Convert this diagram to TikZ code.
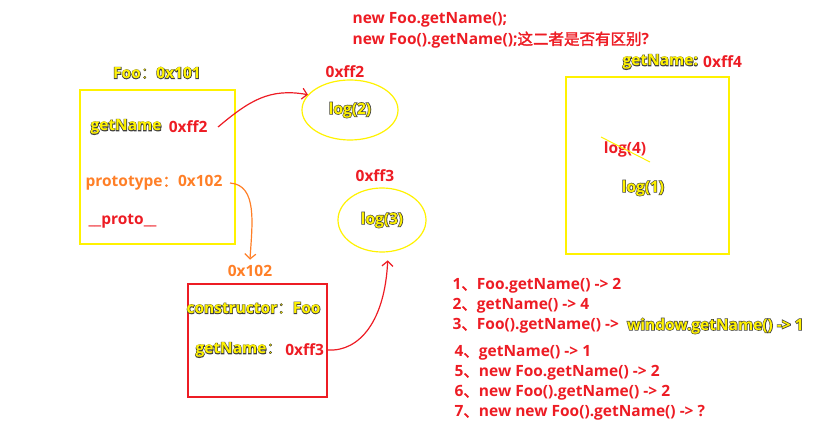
\documentclass[tikz,border=0pt]{standalone}
\usepackage{fontspec}
\setmainfont{Open Sans}[BoldFont={Open Sans Bold}]
\newfontfamily\cjk{Noto Sans CJK SC}[AutoFakeBold=2]
\usetikzlibrary{arrows.meta,shapes.geometric}
\definecolor{jsred}{RGB}{237,28,36}
\definecolor{jsyellow}{RGB}{255,242,0}
\definecolor{jsorange}{RGB}{255,127,39}
% yellow text with a dark outline: stroked copy under the filled one
\newcommand{\ylon}{}
\newcommand{\yl}[1]{\rlap{\def\ylon{\special{pdf:literal direct 0.25 0.25 0.25 RG 1.3 w 1 Tr}}\ylon#1\special{pdf:literal direct 0 Tr}}#1}
\newcommand{\zh}[1]{{\cjk\bfseries #1}}

\begin{document}
\begin{tikzpicture}[x=1pt, y=-1pt, line width=1.2pt,
    >={Straight Barb[length=5pt,width=11pt]},
    every node/.style={font=\fontsize{15.5}{18}\selectfont\bfseries, inner sep=0pt}]
    \useasboundingbox (0,0) rectangle (817,425);

    % Question
    \node[text=jsred, anchor=west] (q1) at (352,20) {new Foo.getName();};
    \node[text=jsred, anchor=west] (q2) at (352,40) {new Foo().getName();\zh{这二者是否有区别}?};

    % Foo
    \node[draw=jsyellow, minimum width=155pt, minimum height=154pt] (foo) at (157.5,167) {};
    \node[text=jsyellow] (foolbl) at (157,73) {\yl{Foo\zh{：}\ylon 0x101}};
    \node[text=jsyellow, anchor=west] (fgn) at (90,127) {\yl{getName}};
    \node[text=jsred, anchor=west] (fgnv) at ([xshift=6pt]fgn.east) {0xff2};
    \node[text=jsorange, anchor=west] (fproto) at (85,183) {prototype\zh{：}0x102};
    \node[text=jsred, anchor=west] (fpr) at (88,221) {\_\_proto\_\_};

    % Functions
    \node[draw=jsyellow, ellipse, minimum width=96pt, minimum height=60pt, text=jsyellow] (e2) at (350,110) {\yl{log(2)}};
    \node[text=jsred] (e2lbl) at (345,72) {0xff2};
    \node[draw=jsyellow, ellipse, minimum width=88pt, minimum height=64pt, text=jsyellow] (e3) at (382,220) {\yl{log(3)}};
    \node[text=jsred] (e3lbl) at (375,176) {0xff3};

    % Foo.prototype
    \node[draw=jsred, minimum width=139pt, minimum height=113pt] (pbox) at (257.5,340.5) {};
    \node[text=jsorange] (plbl) at (250,271) {0x102};
    \node[text=jsyellow, anchor=west] (pcon) at (186,308) {\yl{constructor\zh{：}\ylon Foo}};
    \node[text=jsyellow, anchor=west] (pgn) at (195,350) {\yl{getName\zh{：}}};
    \node[text=jsred, anchor=west] (pgnv) at ([xshift=2pt]pgn.east) {0xff3};

    % window.getName
    \node[draw=jsyellow, minimum width=163pt, minimum height=177pt] (wbox) at (647.5,165.5) {};
    \node[text=jsyellow, anchor=west] (wlbl) at (622,62) {\yl{getName:}};
    \node[text=jsred, anchor=west] (wlblv) at ([xshift=4pt]wlbl.east) {0xff4};
    \node[text=jsred] (log4) at (625,149) {log(4)};
    \draw[jsyellow, line width=1pt] ([shift={(-24pt,12pt)}]log4.center) -- ([shift={(25pt,-13pt)}]log4.center);
    \node[text=jsyellow] (log1) at (643,188) {\yl{log(1)}};

    % Pointers
    \draw[jsred, ->] ([xshift=10pt]fgnv.east) .. controls (250,100) and (270,88) .. (e2.160);
    \draw[jsorange, ->] ([xshift=7pt]fproto.east) .. controls (258,185) and (252,225) .. ([yshift=5pt]plbl.north);
    \draw[jsred, ->] ([xshift=3pt]pgnv.east) .. controls (360,352) and (385,320) .. ([yshift=-8pt]e3.-80);

    % Answers
    \node[text=jsred, anchor=west] (a1) at (452,286) {1\zh{、}Foo.getName() -> 2};
    \node[text=jsred, anchor=west] (a2) at (452,306) {2\zh{、}getName() -> 4};
    \node[text=jsred, anchor=west] (a3) at (452,326) {3\zh{、}Foo().getName() ->};
    \node[text=jsyellow, anchor=west] (a3w) at ([xshift=7pt]a3.east) {\yl{window.getName() -> 1}};
    \node[text=jsred, anchor=west] (a4) at (454,353) {4\zh{、}getName() -> 1};
    \node[text=jsred, anchor=west] (a5) at (454,373) {5\zh{、}new Foo.getName() -> 2};
    \node[text=jsred, anchor=west] (a6) at (454,393) {6\zh{、}new Foo().getName() -> 2};
    \node[text=jsred, anchor=west] (a7) at (454,413) {7\zh{、}new new Foo().getName() -> ?};
\end{tikzpicture}
\end{document}
